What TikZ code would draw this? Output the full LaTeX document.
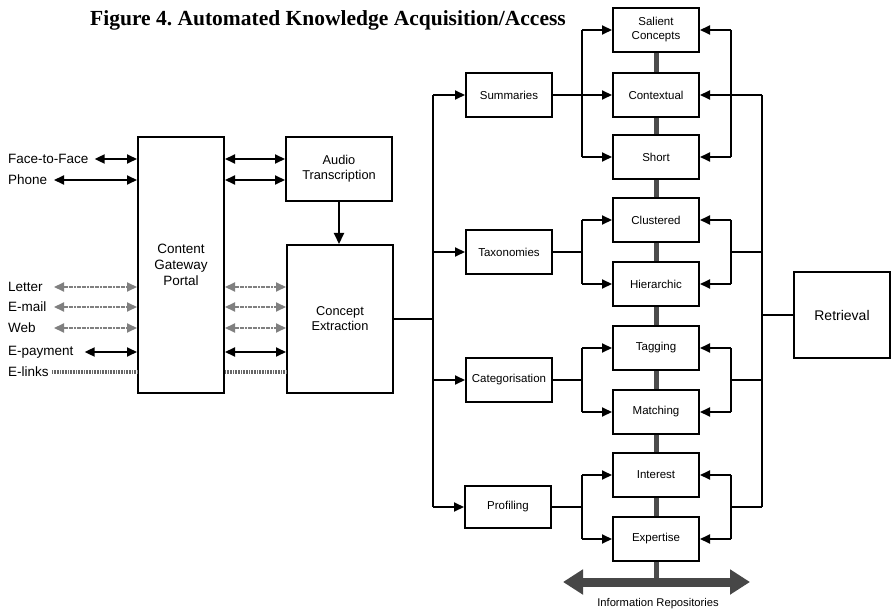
\documentclass[tikz,border=0pt]{standalone}
\usepackage{fontspec}
\setmainfont{Liberation Sans}
\newfontfamily\titlefont{Liberation Serif}
\usetikzlibrary{arrows.meta,calc}
\tikzset{
  box/.style={draw, line width=2pt, fill=white, align=center, inner sep=0pt, font=\fontsize{11.5}{14}\selectfont},
  rbox/.style={box, minimum width=86pt, minimum height=44pt},
  lab/.style={anchor=west, inner sep=0pt, font=\fontsize{13.5}{16}\selectfont},
  ln/.style={line width=2pt},
  arr/.style={ln, -{Triangle[length=10pt,width=9pt]}},
  dbl/.style={line width=2pt, {Triangle[length=10pt,width=9pt]}-{Triangle[length=10pt,width=9pt]}},
  gdbl/.style={dbl, draw=black!50, dash pattern=on 2pt off 0.6pt},
  hatch/.style={line width=3.4pt, draw=black!60, dash pattern=on 0.8pt off 0.8pt},
  bar/.style={line width=5pt, draw=black!70},
  repo/.style={line width=9pt, draw=black!72, {Triangle[length=20pt,width=24pt]}-{Triangle[length=20pt,width=24pt]}},
}
\begin{document}
\begin{tikzpicture}[x=1pt,y=-1pt]
\useasboundingbox (0,0) rectangle (891,612);
% title
\node[font=\titlefont\bfseries\fontsize{21.5}{24}\selectfont] (title) at (328,20) {\frenchspacing Figure 4. Automated Knowledge Acquisition/Access};
% left boxes
\node[box, minimum width=86pt, minimum height=256pt, font=\fontsize{13.5}{16}\selectfont] (portal) at (181,265) {Content\\Gateway\\Portal};
\node[box, minimum width=106pt, minimum height=64pt, font=\fontsize{12.8}{15}\selectfont] (audio) at (339,169) {Audio\\Transcription};
\node[box, minimum width=106pt, minimum height=148pt, font=\fontsize{12.8}{15}\selectfont] (concept) at (340,319) {Concept\\Extraction};
% middle boxes
\node[rbox] (summ) at (509,95) {Summaries};
\node[rbox] (tax) at (509,252) {Taxonomies};
\node[rbox] (cat) at (509,380) {Categorisation};
\node[rbox, minimum height=42pt] (prof) at (508,507) {Profiling};
% right column
\node[rbox] (sal) at (656,30) {Salient\\Concepts};
\node[rbox] (ctx) at (656,95) {Contextual};
\node[rbox] (short) at (656,157) {Short};
\node[rbox] (clu) at (656,220) {Clustered};
\node[rbox] (hie) at (656,284) {Hierarchic};
\node[rbox] (tag) at (656,348) {Tagging};
\node[rbox] (mat) at (656,412) {Matching};
\node[rbox] (int) at (656,475) {Interest};
\node[rbox] (exp) at (656,539) {Expertise};
\node[box, minimum width=96pt, minimum height=86pt, font=\fontsize{14}{16}\selectfont] (ret) at (842,315) {Retrieval};
% repositories
\coordinate (repoL) at (563,582);
\coordinate (repoR) at (750,582);
\coordinate (repoM) at (656,582);
\node[inner sep=0pt, font=\fontsize{11.2}{13}\selectfont] (repolab) at (658,604) {Information Repositories};
% gray bar between right boxes
\foreach \a/\b in {sal/ctx, ctx/short, short/clu, clu/hie, hie/tag, tag/mat, mat/int, int/exp}
  \draw[bar] (\a.south) -- (\b.north);
\draw[bar] (exp.south) -- (exp.south |- repoM);
\draw[repo] (repoL) -- (repoR);
% left labels
\node[lab] (lface) at (8,159) {Face-to-Face};
\node[lab] (lphone) at (8,180) {Phone};
\node[lab] (lletter) at (8,287) {Letter};
\node[lab] (lmail) at (8,307) {E-mail};
\node[lab] (lweb) at (8,328) {Web};
\node[lab] (lpay) at (8,352) {E-payment};
\node[lab] (llinks) at (8,372) {E-links};
\coordinate (xL) at (54,0);
% left arrows
\draw[dbl] ([xshift=6pt]lface.east) -- (lface.east -| portal.west);
\draw[dbl] (lphone.east -| xL) -- (lphone.east -| portal.west);
\draw[gdbl] (lletter.east -| xL) -- (lletter.east -| portal.west);
\draw[gdbl] (lmail.east -| xL) -- (lmail.east -| portal.west);
\draw[gdbl] (lweb.east -| xL) -- (lweb.east -| portal.west);
\draw[dbl] ([xshift=11pt]lpay.east) -- (lpay.east -| portal.west);
\draw[hatch] ([xshift=3pt]llinks.east) -- (llinks.east -| portal.west);
% portal to audio / concept
\draw[dbl] (lface.east -| portal.east) -- (lface.east -| audio.west);
\draw[dbl] (lphone.east -| portal.east) -- (lphone.east -| audio.west);
\draw[gdbl] (lletter.east -| portal.east) -- (lletter.east -| concept.west);
\draw[gdbl] (lmail.east -| portal.east) -- (lmail.east -| concept.west);
\draw[gdbl] (lweb.east -| portal.east) -- (lweb.east -| concept.west);
\draw[dbl] (lpay.east -| portal.east) -- (lpay.east -| concept.west);
\draw[hatch] (llinks.east -| portal.east) -- (llinks.east -| concept.west);
\draw[line width=2pt, -{Triangle[length=11pt,width=10pt]}] (audio.south) -- (audio.south |- concept.north);
% left bus
\coordinate (busL) at (433,0);
\coordinate (splitL) at (582,0);
\coordinate (splitR) at (731,0);
\coordinate (busR) at (762,0);
\draw[ln] (concept.east) -- (concept.east -| busL);
\draw[ln] (summ.west -| busL) -- (prof.west -| busL);
\foreach \n in {summ, tax, cat, prof}
  \draw[arr] (\n.west -| busL) -- (\n.west);
% summaries
\draw[arr] (summ.east) -- (ctx.west);
\draw[ln] (sal.west -| splitL) -- (short.west -| splitL);
\draw[arr] (sal.west -| splitL) -- (sal.west);
\draw[arr] (short.west -| splitL) -- (short.west);
% others
\foreach \s/\a/\b in {tax/clu/hie, cat/tag/mat, prof/int/exp} {
  \draw[ln] (\s.east) -- (\s.east -| splitL);
  \draw[ln] (\a.west -| splitL) -- (\b.west -| splitL);
  \draw[arr] (\a.west -| splitL) -- (\a.west);
  \draw[arr] (\b.west -| splitL) -- (\b.west);
}
% right side
\coordinate (mCH) at ($(clu.east)!.5!(hie.east)$);
\coordinate (mTM) at ($(tag.east)!.5!(mat.east)$);
\coordinate (mIE) at ($(int.east)!.5!(exp.east)$);
\draw[ln] (ret.west) -- (ret.west -| busR);
\draw[ln] (ctx.east -| busR) -- (mIE -| busR);
\draw[arr] (ctx.east -| busR) -- (ctx.east);
\draw[ln] (sal.east -| splitR) -- (short.east -| splitR);
\draw[arr] (sal.east -| splitR) -- (sal.east);
\draw[arr] (short.east -| splitR) -- (short.east);
\foreach \a/\b/\m in {clu/hie/mCH, tag/mat/mTM, int/exp/mIE} {
  \draw[ln] (\a.east -| splitR) -- (\b.east -| splitR);
  \draw[ln] (\m -| splitR) -- (\m -| busR);
  \draw[arr] (\a.east -| splitR) -- (\a.east);
  \draw[arr] (\b.east -| splitR) -- (\b.east);
}
\end{tikzpicture}
\end{document}
